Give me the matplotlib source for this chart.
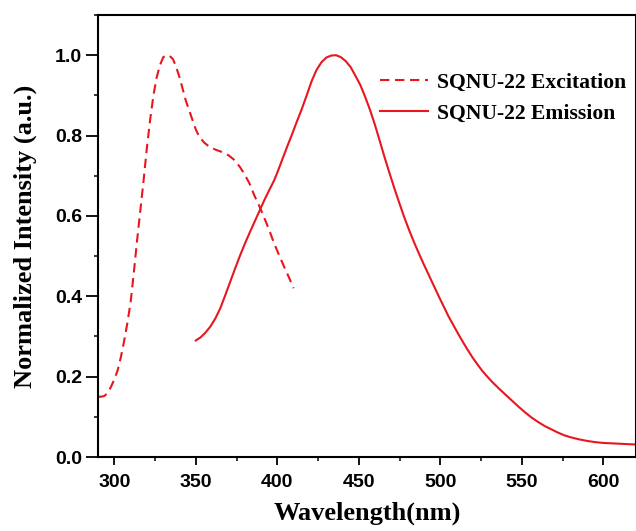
import matplotlib
matplotlib.use('Agg')
import matplotlib.pyplot as plt
from matplotlib.ticker import MultipleLocator

# excitation spectrum (dashed)
ex_wl = [290, 292, 294, 296, 298, 300, 302, 304, 306, 308, 310, 312, 314, 316, 318, 320,
         322, 324, 326, 328, 330, 332, 334, 336, 338, 340, 342, 344, 346, 348, 350, 352,
         355, 358, 362, 366, 370, 374, 377, 380, 383, 386, 389, 392, 395, 398, 401, 404,
         407, 410]
ex_int = [0.150, 0.150, 0.152, 0.160, 0.175, 0.193, 0.215, 0.248, 0.288, 0.333, 0.385,
          0.46, 0.54, 0.615, 0.69, 0.77, 0.84, 0.90, 0.945, 0.975, 0.995, 1.0, 0.998,
          0.99, 0.97, 0.945, 0.915, 0.885, 0.862, 0.838, 0.815, 0.798, 0.783, 0.773,
          0.765, 0.759, 0.751, 0.738, 0.722, 0.703, 0.68, 0.65, 0.624, 0.595, 0.565,
          0.532, 0.503, 0.475, 0.448, 0.42]

# emission spectrum (solid)
em_wl = [350, 353, 356, 359, 362, 365, 368, 371, 374, 377, 380, 383, 386, 389, 392, 395,
         398, 400, 403, 406, 409, 412, 415, 418, 421, 424, 427, 430, 433, 436, 439, 442,
         445, 448, 451, 454, 457, 460, 463, 466, 469, 472, 475, 478, 481, 484, 487, 490,
         493, 496, 499, 502, 505, 508, 511, 514, 517, 520, 523, 526, 529, 532, 536, 540,
         544, 548, 552, 556, 560, 564, 568, 572, 576, 580, 585, 590, 595, 600, 605, 610,
         615, 620]
em_int = [0.290, 0.298, 0.310, 0.325, 0.345, 0.370, 0.402, 0.435, 0.468, 0.500, 0.530,
          0.558, 0.585, 0.612, 0.639, 0.664, 0.688, 0.708, 0.740, 0.772, 0.803, 0.835,
          0.866, 0.900, 0.935, 0.963, 0.982, 0.994, 0.999, 1.0, 0.995, 0.985, 0.970,
          0.948, 0.925, 0.895, 0.862, 0.825, 0.784, 0.743, 0.704, 0.666, 0.630, 0.595,
          0.563, 0.533, 0.505, 0.478, 0.452, 0.426, 0.400, 0.375, 0.350, 0.328, 0.306,
          0.285, 0.265, 0.246, 0.229, 0.213, 0.199, 0.186, 0.170, 0.155, 0.140, 0.125,
          0.111, 0.098, 0.087, 0.077, 0.069, 0.061, 0.054, 0.049, 0.044, 0.040, 0.037,
          0.035, 0.034, 0.033, 0.032, 0.031]

red = '#e8161e'
serif = ['Liberation Serif', 'DejaVu Serif']
sans = ['Liberation Sans', 'DejaVu Sans']

fig = plt.figure(figsize=(6.36, 5.31), dpi=100)
ax = fig.add_axes([98/636, 74/531, 538/636, 442/531])

ax.plot(ex_wl, ex_int, color=red, lw=1.5, ls=(0, (4.5, 2.7)), label='SQNU-22 Excitation')
ax.plot(em_wl, em_int, color=red, lw=1.5, label='SQNU-22 Emission')

ax.set_xlim(290, 620)
ax.set_ylim(0, 1.1)
ax.xaxis.set_major_locator(MultipleLocator(50))
ax.xaxis.set_minor_locator(MultipleLocator(25))
ax.yaxis.set_major_locator(MultipleLocator(0.2))
ax.yaxis.set_minor_locator(MultipleLocator(0.1))
ax.tick_params(which='major', direction='out', width=1.3, labelsize=14)
ax.tick_params(axis='x', which='major', length=6, pad=6)
ax.tick_params(axis='y', which='major', length=8.5, pad=3)
ax.tick_params(which='minor', direction='out', length=3, width=1.1)
for lab in ax.get_xticklabels() + ax.get_yticklabels():
    lab.set_family(sans)
    lab.set_fontweight('bold')
for s in ax.spines.values():
    s.set_linewidth(1.5)

ax.set_xlabel('Wavelength(nm)', family=serif, fontweight='bold', fontsize=19, labelpad=8)
ax.set_ylabel('Normalized Intensity (a.u.)', family=serif, fontweight='bold', fontsize=19,
              labelpad=13)

leg = ax.legend(loc='upper left', bbox_to_anchor=(0.524, 0.869), frameon=False,
                borderpad=0, borderaxespad=0,
                handlelength=2.2, handletextpad=0.45, labelspacing=0.5,
                prop={'family': serif, 'weight': 'bold', 'size': 15.6})

fig.savefig('out.png', dpi=100)
